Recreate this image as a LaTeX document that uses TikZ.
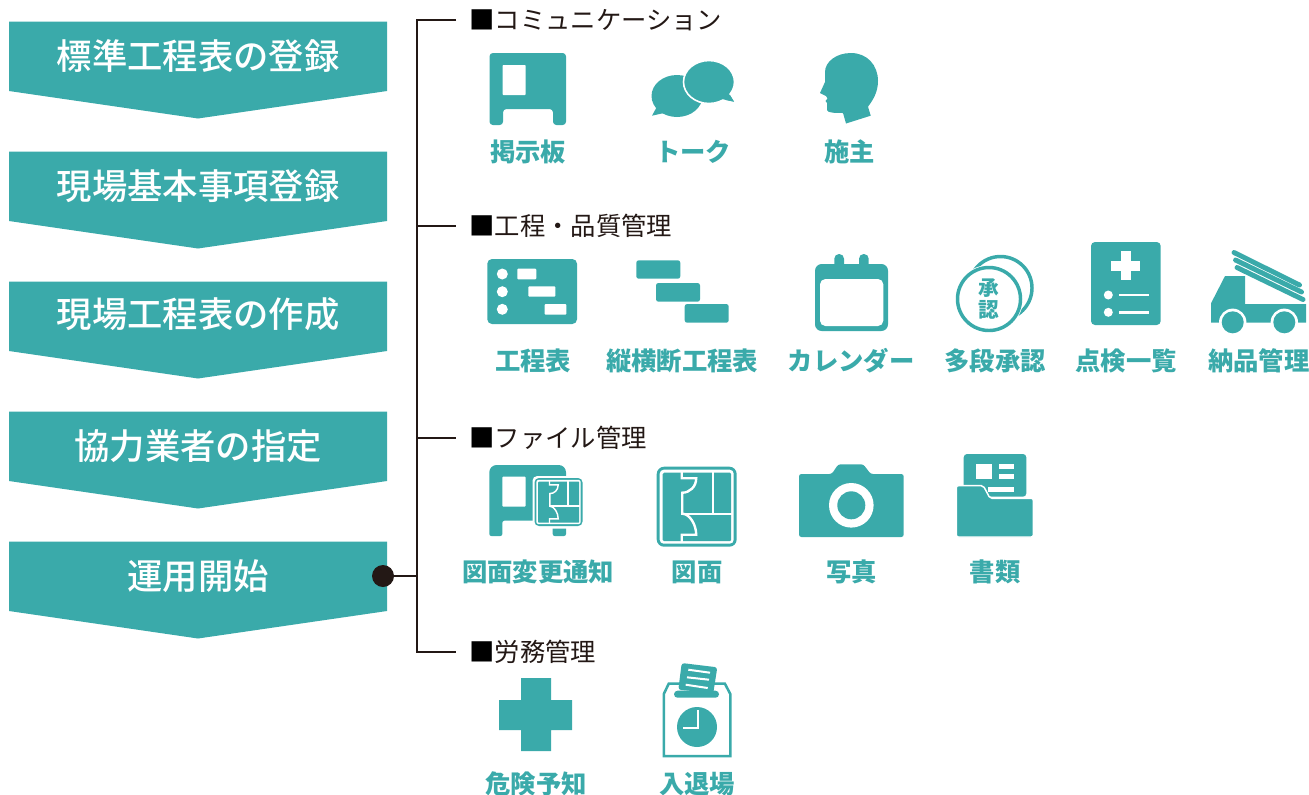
\documentclass[tikz,border=0pt]{standalone}
\usepackage{fontspec}
\setmainfont{Noto Sans CJK JP}
\newfontfamily\medf{Noto Sans CJK JP Medium}
\newfontfamily\blackf{Noto Sans CJK JP Black}
\definecolor{tealc}{HTML}{3AAAAA}
\definecolor{inkc}{HTML}{231815}
\tikzset{
  chev/.style={fill=tealc,draw=none},
  titletxt/.style={text=white,inner sep=0pt,text height=22.5pt,text depth=3.2pt,font=\medf\fontsize{26.5pt}{26.5pt}\selectfont},
  headtxt/.style={text=inkc,anchor=west,inner ysep=0pt,inner xsep=0pt,outer xsep=10pt,text height=16.1pt,text depth=2.3pt,font=\fontsize{19pt}{19pt}\selectfont},
  labeltxt/.style={text=tealc,inner sep=0pt,text height=16.1pt,text depth=2.3pt,font=\bfseries\fontsize{19pt}{19pt}\selectfont},
  stamptxt/.style={text=tealc,inner sep=0pt,text height=13.2pt,text depth=1.9pt,font=\blackf\fontsize{15.5pt}{15.5pt}\selectfont},
  wire/.style={draw=inkc,line width=1.75pt},
  tf/.style={fill=tealc,draw=none},
  wf/.style={fill=white,draw=none},
  tl/.style={draw=tealc,fill=none},
}
\newcommand{\chevshape}[1]{\path[chev] (9,#1) -- (387,#1) -- (387,#1+69.5) -- (198,#1+97) -- (9,#1+69.5) -- cycle;}
\newcommand{\planicon}[3]{%
  \begin{scope}[shift={(#1,#2)},scale=#3]
    \path[tf,rounded corners=#3*5.5pt] (0,0) rectangle (80,80);
    \path[wf,rounded corners=#3*3pt] (3,3) rectangle (77,77);
    \path[tf,rounded corners=#3*1pt] (6,6) rectangle (74.5,74.5);
    \draw[draw=white,line width=#3*1.8pt]
      (25,5) -- (25,11.5) -- (39.5,11.5) .. controls (39.5,20) and (33,26) .. (25.5,26)
      -- (25.5,47) .. controls (33,47) and (39.5,58) .. (39.5,68) -- (25,68) -- (25,75.5);
    \draw[draw=white,line width=#3*1.8pt] (25.5,47) -- (75,47) (56,5) -- (56,47);
  \end{scope}}
\begin{document}
\begin{tikzpicture}[x=.75pt,y=-.75pt]
\useasboundingbox (0,0) rectangle (1309,794);
% left chevrons
\chevshape{21.5}\chevshape{151.5}\chevshape{281.5}\chevshape{411.5}\chevshape{541.5}
\node[titletxt] (t1) at (198,57) {標準工程表の登録};
\node[titletxt] (t2) at (198,187) {現場基本事項登録};
\node[titletxt] (t3) at (198,315) {現場工程表の作成};
\node[titletxt] (t4) at (198,447) {協力業者の指定};
\node[titletxt] (t5) at (198,577) {運用開始};
% headings and connectors
\node[headtxt] (h1) at (456,20) {{\color{black}■}コミュニケーション};
\node[headtxt] (h2) at (456,226) {{\color{black}■}工程・品質管理};
\node[headtxt] (h3) at (456,438) {{\color{black}■}ファイル管理};
\node[headtxt] (h4) at (456,652) {{\color{black}■}労務管理};
\coordinate (jt) at (417,20);
\coordinate (jb) at (417,652);
\coordinate (j2) at (417,226);
\coordinate (j3) at (417,438);
\coordinate (j5) at (417,576);
\node[circle,fill=inkc,draw=none,minimum size=16.5pt,inner sep=0pt] (dot) at (383,576) {};
\draw[wire] (h1.west) -- (jt) -- (jb) -- (h4.west);
\draw[wire] (j2) -- (h2.west);
\draw[wire] (j3) -- (h3.west);
\draw[wire] (dot) -- (j5);
% board
\path[tf,rounded corners=2.5pt] (489.5,53) -- (566,53) -- (566,125) -- (553,125) -- (553,109) -- (503,109) -- (503,125) -- (489.5,125) -- cycle;
\path[wf,rounded corners=.7pt] (502.5,65) rectangle (525.7,95);
\node[labeltxt] (l1) at (528,152) {掲示板};
% talk
\path[tf] (677,96) ellipse [x radius=25.5,y radius=21];
\path[tf] (652,115.7) -- (657.3,106) -- (664,113) -- cycle;
\path[tf] (734,101.7) -- (728.3,92) -- (721,99) -- cycle;
\path[tf,draw=white,line width=1.2pt] (709,82) ellipse [x radius=25.5,y radius=21.5];
\path[tf] (734,101.7) -- (728.3,93) -- (722,99) -- cycle;
\node[labeltxt] (l2) at (693,152) {トーク};
% head
\path[tf] (825,72) .. controls (825,62) and (836,53) .. (851,53)
  .. controls (867,53) and (878,65) .. (878,81)
  .. controls (878,92) and (873,100) .. (868,106.7)
  -- (870.7,115.7) -- (846,123.5) -- (843,113)
  .. controls (836,113) and (827,113) .. (827,110)
  -- (827,103) -- (825.5,101) -- (827.5,98.5) -- (826,96) -- (820,93)
  -- (825,82) -- cycle;
\node[labeltxt] (l3) at (849.5,152) {施主};
% schedule
\path[tf,rounded corners=3.5pt] (487.3,259) rectangle (577,324);
\foreach \yy in {274,291.7,309.3} {\path[wf] (502.3,\yy) circle [radius=5.5];}
\path[wf,rounded corners=.7pt] (517.3,268.7) rectangle (536.3,279.3);
\path[wf,rounded corners=.7pt] (528.3,286.3) rectangle (555.3,296.7);
\path[wf,rounded corners=.7pt] (544.7,304) rectangle (566.3,314.7);
\node[labeltxt] (l4) at (533,361) {工程表};
% gantt
\path[tf,rounded corners=1.8pt] (636.3,260.3) rectangle (680.3,278.7);
\path[tf,rounded corners=1.8pt] (656,283) rectangle (700,301.7);
\path[tf,rounded corners=1.8pt] (684.7,304) rectangle (728.7,322.7);
\node[labeltxt] (l5) at (682.3,361) {縦横断工程表};
% calendar
\path[tf,rounded corners=5pt] (815,264) rectangle (888,331);
\path[wf,rounded corners=4pt] (820,279) rectangle (883.3,326);
\path[tf,rounded corners=3.5pt] (834.3,254) rectangle (844,270);
\path[tf,rounded corners=3.5pt] (859,254) rectangle (868.7,270);
\node[labeltxt] (l6) at (851.3,361) {カレンダー};
% stamps
\draw[tl,line width=2.6pt] (1000.5,288) circle [radius=31.5];
\path[wf] (989,299) circle [radius=34];
\draw[tl,line width=2.6pt] (989,299) circle [radius=31.5];
\node[stamptxt] (s1) at (989,287.5) {承};
\node[stamptxt] (s2) at (989,310) {認};
\node[labeltxt] (l7) at (995,361) {多段承認};
% checklist
\path[tf,rounded corners=3pt] (1091,242) rectangle (1160.7,325);
\path[wf] (1120.7,251) rectangle (1130.7,280);
\path[wf] (1111.3,260.7) rectangle (1140,270.7);
\path[wf] (1108.3,295) circle [radius=4.5];
\path[wf] (1108.3,312.3) circle [radius=4.5];
\path[wf] (1119,293.7) rectangle (1149,296.4);
\path[wf] (1119,311) rectangle (1149,313.7);
\node[labeltxt] (l8) at (1126,361) {点検一覧};
% truck
\path[tf] (1211,303.3) -- (1225,276) -- (1245,276) -- (1245,304) -- (1306,304) -- (1306,322.7) -- (1211,322.7) -- cycle;
\path[wf] (1232.7,322.3) circle [radius=13.7];
\path[wf] (1284.3,322.3) circle [radius=13.7];
\path[tf] (1232.7,322.3) circle [radius=11];
\path[tf] (1284.3,322.3) circle [radius=11];
\draw[draw=tealc,line width=3.7pt,line cap=round] (1234,252.5) -- (1299.5,285);
\draw[draw=tealc,line width=3.7pt,line cap=round] (1235.5,260) -- (1301.5,292);
\draw[draw=tealc,line width=3.7pt,line cap=round] (1237,267.5) -- (1303,299.5);
\node[labeltxt] (l9) at (1258.7,361) {納品管理};
% board with plan
\path[tf] (489.3,500) [rounded corners=5.5pt] -- (489.3,465) -- (566,465) -- (566,500) [rounded corners=1.5pt] -- (566,536) -- (552.7,536) -- (552.7,520.7) -- (502.3,520.7) -- (502.3,536) -- (489.3,536) -- cycle;
\path[wf,rounded corners=.7pt] (502.3,476.7) rectangle (525.7,506.7);
\path[wf,rounded corners=3.5pt] (532.5,476) rectangle (584,528.5);
\planicon{534.5}{478}{.6}
\node[labeltxt] (l10) at (538,572) {図面変更通知};
% plan
\planicon{656.7}{466.7}{1}
\node[labeltxt] (l11) at (697.3,572) {図面};
% camera
\path[tf,rounded corners=1.8pt] (799,474) -- (831.7,474) -- (838.3,464.3) -- (863.3,464.3) -- (870.7,474) -- (903.7,474) -- (903.7,537) -- (799,537) -- cycle;
\path[wf] (851.3,505.3) circle [radius=22.3];
\path[tf] (851.3,505.3) circle [radius=14];
\node[labeltxt] (l12) at (851.5,572) {写真};
% documents
\path[tf,rounded corners=2.5pt] (963.7,454) rectangle (1026.3,496.7);
\path[wf] (976,464) rectangle (992,479.3);
\path[wf] (999,464) rectangle (1013.7,469.3);
\path[wf] (999,474) rectangle (1013.7,479.3);
\path[wf] (988,486.7) rectangle (1013.7,491.7);
\path[tf,draw=white,line width=1.1pt,rounded corners=1.5pt] (956.3,485.7) -- (983.3,485.7) -- (990,498.3) -- (1033.3,498.3) -- (1033.3,537) -- (956.3,537) -- cycle;
\node[labeltxt] (l13) at (995,572) {書類};
% cross
\path[tf] (521,678) -- (551,678) -- (551,700) -- (572,700) -- (572,730) -- (551,730) -- (551,751) -- (521,751) -- (521,730) -- (499,730) -- (499,700) -- (521,700) -- cycle;
\node[labeltxt] (l14) at (536,784) {危険予知};
% time card
\draw[tl,line width=1.9pt] (663.8,694) -- (668.8,683.5) -- (724.8,683.5) -- (730.3,694) -- (730.3,756) -- (663.8,756) -- cycle;
\path[tf,rounded corners=2pt] (681.7,663) -- (717.3,667.3) -- (713.3,693) -- (678.3,689.7) -- cycle;
\path[tf,rounded corners=2.6pt] (674,690.7) rectangle (719,697.7);
\draw[draw=white,line width=1.5pt] (688.3,669.7) -- (710,672.7) (687,677.3) -- (709,679.7) (685.7,684.7) -- (707.7,688);
\path[tf] (697,727) circle [radius=20];
\draw[draw=white,line width=1.3pt] (697.7,710.3) -- (697.7,727.7) -- (683.3,727.7);
\node[labeltxt] (l15) at (697,784) {入退場};
\end{tikzpicture}
\end{document}
